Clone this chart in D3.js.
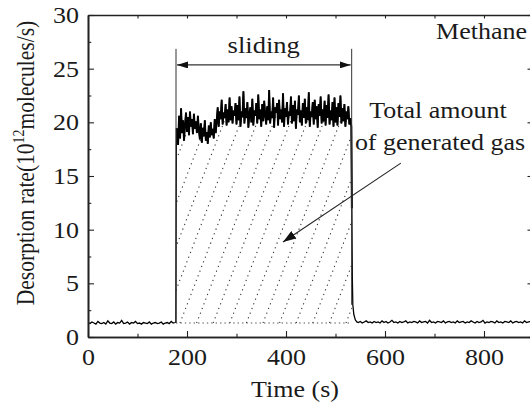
<!DOCTYPE html>
<html>
<head>
<meta charset="utf-8">
<script src="https://cdn.jsdelivr.net/npm/d3@7"></script>
<style>
  body { margin: 0; background: #fff; }
  svg { font-family: "Liberation Serif", "Times New Roman", serif; }
</style>
</head>
<body>
<div id="chart"></div>
<script>
// axis ticks
const xMajor = [0, 200, 400, 600, 800];
const xMinor = [100, 300, 500, 700, 900];
const yMajor = [0, 5, 10, 15, 20, 25, 30];
const yMinor = [2.5, 7.5, 12.5, 17.5, 22.5, 27.5];

// baseline before sliding: t = 0..176, every 4 s
const preStart = 0, preStep = 4;
const preValues = [
  1.35, 1.25, 1.4, 1.3, 1.2, 1.45, 1.3, 1.25, 1.35, 1.2,
  1.5, 1.3, 1.25, 1.4, 1.2, 1.35, 1.3, 1.55, 1.25, 1.3,
  1.4, 1.2, 1.35, 1.3, 1.45, 1.25, 1.3, 1.2, 1.35, 1.3,
  1.25, 1.4, 1.2, 1.3, 1.35, 1.25, 1.3, 1.4, 1.2, 1.3,
  1.35, 1.25, 1.45, 1.3, 1.35
];

// onset of sliding
const riseT = [177.5, 178, 178.6];
const riseV = [1.4, 11.0, 19.4];

// during sliding: t = 180..528, every 2 s
const slideStart = 180, slideStep = 2;
const slideValues = [
  19.4, 17.9, 20.6, 18.5, 21.3, 19.0, 20.2, 18.3, 19.8, 20.9,
  19.1, 20.5, 18.8, 21.0, 19.6, 20.3, 18.9, 20.8, 19.4, 20.1, 19.0, 20.6, 19.3,
  18.4, 19.9, 18.1, 19.5, 18.7, 20.2, 18.3, 19.1, 18.0, 19.7, 18.6, 20.0, 18.8, 19.4, 18.5, 20.3, 19.0,
  20.1, 21.4, 19.6, 21.0, 20.3, 22.1, 19.8, 20.9, 20.4, 21.7, 19.7, 21.2, 20.0, 22.3, 20.2, 21.5, 19.9, 21.1, 20.6, 21.8,
  19.8, 21.6, 20.2, 22.4, 19.6, 21.0, 20.5, 22.9, 19.9, 21.3,
  20.4, 21.9, 19.5, 20.8, 21.4, 20.0, 22.2, 19.7, 21.1, 20.6,
  21.8, 19.9, 22.6, 20.3, 21.2, 19.6, 21.7, 20.1, 22.0, 20.7,
  19.8, 21.5, 20.2, 23.0, 19.9, 21.0, 20.4, 22.3, 19.5, 21.4,
  20.9, 21.8, 19.7, 22.1, 20.3, 21.2, 20.0, 22.7, 19.6, 21.3,
  20.5, 21.9, 19.8, 21.0, 20.6, 22.4, 19.9, 21.6, 20.1, 22.0,
  19.4, 21.2, 20.7, 22.5, 20.0, 21.1, 19.7, 21.8, 20.4, 22.2,
  19.9, 21.4, 20.2, 22.8, 19.6, 21.0, 20.5, 21.9, 19.8, 22.1,
  20.3, 21.5, 19.5, 21.7, 20.6, 22.4, 19.9, 21.2, 20.1, 22.0,
  19.7, 21.6, 20.4, 22.6, 19.8, 21.1, 20.2, 21.9, 19.6, 22.3,
  20.0, 21.4, 19.7, 21.8, 20.5, 22.5, 19.9, 21.3, 20.1, 21.7,
  19.6, 21.0, 20.3, 21.5, 19.8
];

// end of sliding
const dropT = [530, 532, 533, 534, 535, 537, 540, 543];
const dropV = [20.4, 19.6, 12.0, 5.5, 3.0, 2.1, 1.6, 1.4];

// baseline after sliding: t = 546..898, every 4 s
const postStart = 546, postStep = 4;
const postValues = [
  1.35, 1.45, 1.3, 1.4, 1.5, 1.35, 1.4, 1.3, 1.45, 1.35,
  1.4, 1.3, 1.5, 1.35, 1.45, 1.3, 1.4, 1.55, 1.35, 1.4,
  1.3, 1.45, 1.35, 1.4, 1.5, 1.3, 1.4, 1.35, 1.45, 1.4,
  1.3, 1.5, 1.35, 1.4, 1.45, 1.3, 1.55, 1.35, 1.4, 1.3,
  1.45, 1.4, 1.35, 1.5, 1.3, 1.4, 1.45, 1.35, 1.4, 1.3,
  1.5, 1.35, 1.4, 1.45, 1.3, 1.4, 1.35, 1.5, 1.4, 1.3,
  1.45, 1.35, 1.4, 1.55, 1.3, 1.4, 1.35, 1.45, 1.4, 1.3,
  1.5, 1.35, 1.4, 1.3, 1.45, 1.4, 1.35, 1.5, 1.3, 1.4,
  1.45, 1.35, 1.4, 1.3, 1.5, 1.35, 1.4, 1.45, 1.35
];

const baseLevel = 1.3;
const slideOn = 177.8, slideOff = 532.7;

const width = 530, height = 402;
const margin = { left: 88, top: 15, right: -3.5, bottom: 65 };
const stretch = 1.13; // glyphs in the figure are a bit wider than tall

const series = [];
preValues.forEach((v, i) => series.push([preStart + i * preStep, v]));
riseT.forEach((t, i) => series.push([t, riseV[i]]));
slideValues.forEach((v, i) => series.push([slideStart + i * slideStep, v]));
dropT.forEach((t, i) => series.push([t, dropV[i]]));
postValues.forEach((v, i) => series.push([postStart + i * postStep, v]));

const svg = d3.select('#chart').append('svg')
  .attr('width', width)
  .attr('height', height);

const x = d3.scaleLinear().domain([0, 900]).range([margin.left, width - margin.right]);
const y = d3.scaleLinear().domain([0, 30]).range([height - margin.bottom, margin.top]);

const defs = svg.append('defs');

// hatched area under the sliding part
const inSlide = series.filter(d => d[0] >= slideOn - 0.5 && d[0] <= slideOff + 0.5);
const areaGen = d3.area()
  .x(d => x(d[0]))
  .y0(y(baseLevel))
  .y1(d => y(d[1]));

defs.append('clipPath').attr('id', 'slideClip')
  .append('path')
  .attr('d', areaGen(inSlide));

const hatch = svg.append('g').attr('clip-path', 'url(#slideClip)');
const yb = y(baseLevel), yt = y(24);
const lean = (yb - yt) / Math.tan(69 * Math.PI / 180);
for (let xs = 180 - 16.6 * 7; xs < x(slideOff) + 2; xs += 16.6) {
  hatch.append('line')
    .attr('x1', xs).attr('y1', yb)
    .attr('x2', xs + lean).attr('y2', yt)
    .attr('stroke', '#333')
    .attr('stroke-width', 1.1)
    .attr('stroke-dasharray', '1.2,3.8');
}

svg.append('line')
  .attr('x1', x(slideOn)).attr('x2', x(slideOff))
  .attr('y1', y(baseLevel)).attr('y2', y(baseLevel))
  .attr('stroke', '#555')
  .attr('stroke-width', 1.1)
  .attr('stroke-dasharray', '1.4,3');

// data trace
const lineGen = d3.line().x(d => x(d[0])).y(d => y(d[1]));
svg.append('path')
  .datum(series)
  .attr('fill', 'none')
  .attr('stroke', '#000')
  .attr('stroke-width', 1.3)
  .attr('d', lineGen);
svg.append('path')
  .datum(inSlide.filter(d => d[0] >= 179))
  .attr('fill', 'none')
  .attr('stroke', '#000')
  .attr('stroke-width', 1.9)
  .attr('d', lineGen);

// axes
const fontSize = 23;
svg.append('g')
  .attr('transform', `translate(0,${y(0)})`)
  .call(d3.axisBottom(x).tickValues(xMajor).tickSize(-6).tickSizeOuter(0).tickPadding(11.5));
svg.append('g')
  .attr('transform', `translate(0,${y(0)})`)
  .call(d3.axisBottom(x).tickValues(xMinor).tickSize(-3.3).tickSizeOuter(0).tickFormat(''));

svg.append('g')
  .attr('transform', `translate(${x(0)},0)`)
  .call(d3.axisLeft(y).tickValues(yMajor).tickSize(-6).tickSizeOuter(0).tickPadding(8));
svg.append('g')
  .attr('transform', `translate(${x(0)},0)`)
  .call(d3.axisLeft(y).tickValues(yMinor).tickSize(-3.3).tickSizeOuter(0).tickFormat(''));

svg.append('g')
  .attr('transform', `translate(0,${y(30)})`)
  .call(d3.axisTop(x).tickValues(xMajor.concat(xMinor)).tickSize(-3.5).tickSizeOuter(0).tickFormat(''));
svg.append('g')
  .attr('transform', `translate(${x(900)},0)`)
  .call(d3.axisRight(y).tickValues(yMajor).tickSize(-6).tickSizeOuter(0).tickFormat(''));

svg.selectAll('.domain').attr('stroke', '#222').attr('stroke-width', 1.6);
svg.selectAll('.tick line').attr('stroke', '#222').attr('stroke-width', 1.1);
svg.selectAll('.tick text')
  .attr('font-family', '"Liberation Serif", "Times New Roman", serif')
  .attr('font-size', fontSize)
  .attr('fill', '#1a1a1a')
  .attr('transform', `scale(${stretch},1)`);

// stretched text helper
function label(px, py, str, size, anchor) {
  return svg.append('text')
    .attr('transform', `translate(${px},${py}) scale(${stretch},1)`)
    .attr('text-anchor', anchor)
    .attr('font-size', size)
    .attr('fill', '#1a1a1a')
    .text(str);
}

// axis titles
label(295, 397, 'Time (s)', fontSize, 'middle');

const yTitle = svg.append('text')
  .attr('transform', `translate(34,163) scale(${stretch},1) rotate(-90)`)
  .attr('text-anchor', 'middle')
  .attr('font-size', 21.5)
  .attr('fill', '#1a1a1a');
yTitle.append('tspan').text('Desorption rate(10');
yTitle.append('tspan').attr('font-size', 14).attr('dy', -9).text('12');
yTitle.append('tspan').attr('dy', 9).text('molecules/s)');

// annotations
const arrowMarker = (id, len, half) => {
  defs.append('marker')
    .attr('id', id)
    .attr('viewBox', `0 ${-half} ${len} ${2 * half}`)
    .attr('refX', len).attr('refY', 0)
    .attr('markerWidth', len).attr('markerHeight', 2 * half)
    .attr('markerUnits', 'userSpaceOnUse')
    .attr('orient', 'auto-start-reverse')
    .append('path')
    .attr('d', `M0,${-half}L${len},0L0,${half}Z`)
    .attr('fill', '#111');
};
arrowMarker('headSmall', 11, 3.5);
arrowMarker('headLarge', 13, 4.5);

svg.append('line')
  .attr('x1', x(slideOn)).attr('x2', x(slideOn))
  .attr('y1', y(26.85)).attr('y2', y(baseLevel))
  .attr('stroke', '#333').attr('stroke-width', 1);
svg.append('line')
  .attr('x1', x(slideOff)).attr('x2', x(slideOff))
  .attr('y1', y(26.85)).attr('y2', y(3))
  .attr('stroke', '#333').attr('stroke-width', 1);

svg.append('line')
  .attr('x1', x(slideOn) + 1).attr('x2', x(slideOff) - 1)
  .attr('y1', y(25.35)).attr('y2', y(25.35))
  .attr('stroke', '#333').attr('stroke-width', 1.1)
  .attr('marker-start', 'url(#headSmall)')
  .attr('marker-end', 'url(#headSmall)');

label(x(355), 53, 'sliding', 23.5, 'middle');
label(527, 39, 'Methane', 23, 'end');
label(438, 118, 'Total amount', 23, 'middle');
label(440, 150, 'of generated gas', 23, 'middle');

svg.append('line')
  .attr('x1', x(632)).attr('y1', y(16.2))
  .attr('x2', x(394)).attr('y2', y(8.85))
  .attr('stroke', '#222').attr('stroke-width', 1.1)
  .attr('marker-end', 'url(#headLarge)');
</script>
</body>
</html>
